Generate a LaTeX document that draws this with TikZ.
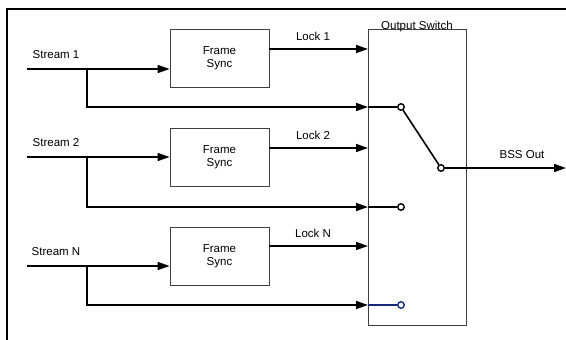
\documentclass[tikz,border=0pt]{standalone}
\usepackage{fontspec}
\setmainfont{Liberation Sans}
\usetikzlibrary{arrows.meta}
\definecolor{swblue}{RGB}{20,40,120}
\begin{document}
\begin{tikzpicture}[x=1pt,y=-1pt,
  wire/.style={line width=1.6pt,-{Triangle[length=12pt,width=8pt]}},
  plain/.style={line width=1.6pt},
  fsbox/.style={draw=black!75,line width=0.8pt,minimum width=99pt,minimum height=58pt,inner sep=0pt,align=center,font=\fontsize{11.5}{13.5}\selectfont},
  lbl/.style={font=\fontsize{11.5}{13.5}\selectfont,inner sep=0pt},
  term/.style={circle,draw,line width=1.4pt,fill=white,minimum size=6.5pt,inner sep=0pt}]
\useasboundingbox (0,0) rectangle (566,340);
% frame
\draw[line width=1.6pt] (7,340) -- (7,9) -- (566,9);
% output switch
\node[draw=black!75,line width=0.8pt,minimum width=98pt,minimum height=296pt,inner sep=0pt] (sw) at (417,177) {};
\node[lbl,anchor=south] (swl) at (sw.north) [yshift=-3pt] {Output Switch};
% frame syncs
\node[fsbox] (fs1) at (219.5,58) {Frame\\Sync};
\node[fsbox] (fs2) at (219.5,157) {Frame\\Sync};
\node[fsbox] (fs3) at (219.5,256) {Frame\\Sync};
% coordinates
\coordinate (s1) at (27,69);
\coordinate (s2) at (27,157);
\coordinate (s3) at (27,266);
\coordinate (b1) at (87,69);
\coordinate (b2) at (87,157);
\coordinate (b3) at (87,266);
\coordinate (r1) at (87,107);
\coordinate (r2) at (87,207);
\coordinate (r3) at (87,305);
\coordinate (e1) at (368,107);
\coordinate (e2) at (368,207);
\coordinate (e3) at (368,305);
\coordinate (l1) at (368,49);
\coordinate (l2) at (368,148);
\coordinate (l3) at (368,246);
\coordinate (out) at (566,168);
% labels
\node[lbl] (st1) at (56,55) {Stream 1};
\node[lbl] (st2) at (56,143) {Stream 2};
\node[lbl] (st3) at (56,252) {Stream N};
\node[lbl] (lk1) at (313,36) {Lock 1};
\node[lbl] (lk2) at (313,135) {Lock 2};
\node[lbl] (lk3) at (313,233) {Lock N};
\node[lbl] (bss) at (522,155) {BSS Out};
% stream inputs
\draw[wire] (s1) -- (fs1.west |- s1);
\draw[wire] (s2) -- (fs2.west |- s2);
\draw[wire] (s3) -- (fs3.west |- s3);
% locks
\draw[wire] (fs1.east |- l1) -- (l1);
\draw[wire] (fs2.east |- l2) -- (l2);
\draw[wire] (fs3.east |- l3) -- (l3);
% bypass
\draw[wire] (b1) -- (r1) -- (e1);
\draw[wire] (b2) -- (r2) -- (e2);
\draw[wire] (b3) -- (r3) -- (e3);
% terminals
\node[term] (t1) at (401,107) {};
\node[term] (t2) at (401,207) {};
\node[term,draw=swblue] (t3) at (401,305) {};
\node[term] (tc) at (441,168) {};
\draw[plain] (e1) -- (t1);
\draw[plain] (e2) -- (t2);
\draw[line width=1.2pt,swblue] (e3) -- (t3);
\draw[plain] (t1) -- (tc);
\draw[wire] (tc) -- (out);
\end{tikzpicture}
\end{document}
